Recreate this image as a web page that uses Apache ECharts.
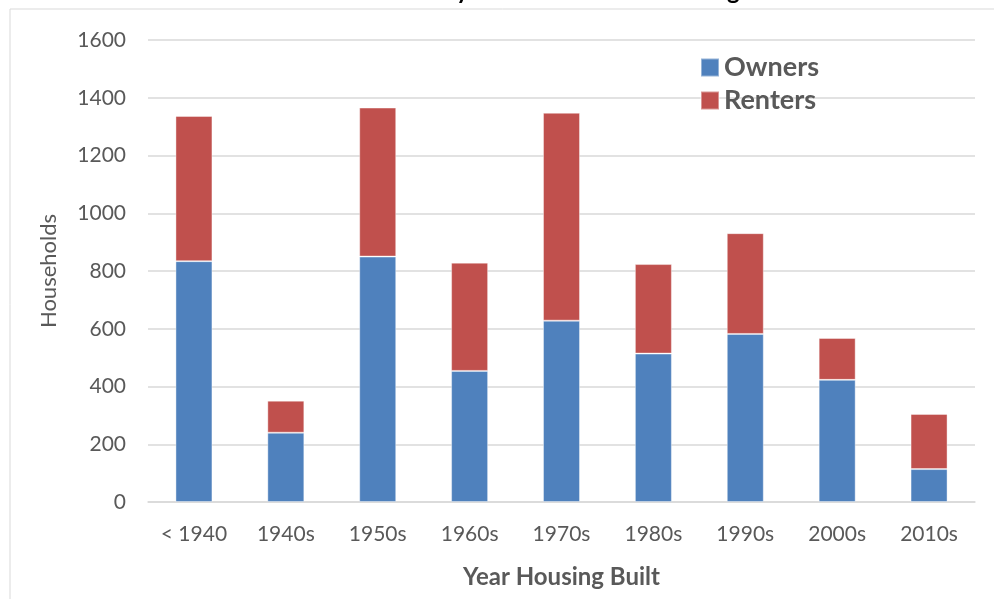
<!DOCTYPE html>
<html>
<head>
<meta charset="utf-8">
<script src="https://cdn.jsdelivr.net/npm/echarts@6/dist/echarts.min.js"></script>
<style>
  html, body { margin: 0; padding: 0; background: #fff; }
  #chart { width: 994px; height: 599px; }
</style>
</head>
<body>
<div id="chart"></div>
<script>
  // categories and values
  var decades = ['< 1940', '1940s', '1950s', '1960s', '1970s', '1980s', '1990s', '2000s', '2010s'];
  var owners = [834, 240, 850, 454, 628, 514, 582, 423, 114];
  var renters = [503, 111, 516, 375, 720, 310, 349, 145, 191];
  var yTicks = {min: 0, max: 1600, interval: 200};

  var font = 'Lato, "Open Sans", sans-serif';
  var grey = '#595959';

  var chart = echarts.init(document.getElementById('chart'));
  chart.setOption({
    backgroundColor: '#fff',
    animation: false,
    // title sits mostly above the frame, only the descenders show
    title: {
      text: 'Households by Tenure and Year Housing Built',
      left: 306,
      top: -26,
      textStyle: {fontFamily: font, fontSize: 24, fontWeight: 'bold', color: '#000'}
    },
    graphic: [{
      type: 'rect',
      shape: {x: 10, y: 9, width: 1000, height: 620},
      style: {fill: 'none', stroke: '#d9d9d9', lineWidth: 1}
    }],
    legend: {
      orient: 'vertical',
      left: 695,
      top: 49,
      itemWidth: 18,
      itemHeight: 18,
      itemGap: 6,
      icon: 'rect',
      textStyle: {fontFamily: font, fontSize: 27, fontWeight: 'bold', color: grey},
      data: ['Owners', 'Renters']
    },
    grid: {left: 148, right: 19, top: 40, bottom: 97},
    xAxis: {
      type: 'category',
      data: decades,
      name: 'Year Housing Built',
      nameLocation: 'middle',
      nameGap: 63,
      nameTextStyle: {fontFamily: font, fontSize: 24, fontWeight: 'bold', color: grey},
      axisLine: {lineStyle: {color: '#d9d9d9', width: 1.5}},
      axisTick: {show: false},
      axisLabel: {fontFamily: font, fontSize: 21, color: grey, margin: 22}
    },
    yAxis: {
      type: 'value',
      min: yTicks.min,
      max: yTicks.max,
      interval: yTicks.interval,
      name: 'Households',
      nameLocation: 'middle',
      nameGap: 88,
      nameTextStyle: {fontFamily: font, fontSize: 22, color: grey},
      axisLine: {show: false},
      axisTick: {show: false},
      axisLabel: {fontFamily: font, fontSize: 21, color: grey, margin: 22, formatter: function (v) { return String(v); }},
      splitLine: {lineStyle: {color: '#d9d9d9', width: 1.5}}
    },
    series: [
      {
        name: 'Owners',
        type: 'bar',
        stack: 'total',
        barWidth: 37,
        data: owners,
        itemStyle: {color: '#4f81bd', borderColor: 'rgba(255,255,255,0.4)', borderWidth: 1}
      },
      {
        name: 'Renters',
        type: 'bar',
        stack: 'total',
        barWidth: 37,
        data: renters,
        itemStyle: {color: '#c0504d', borderColor: 'rgba(255,255,255,0.4)', borderWidth: 1}
      }
    ]
  });
</script>
</body>
</html>
